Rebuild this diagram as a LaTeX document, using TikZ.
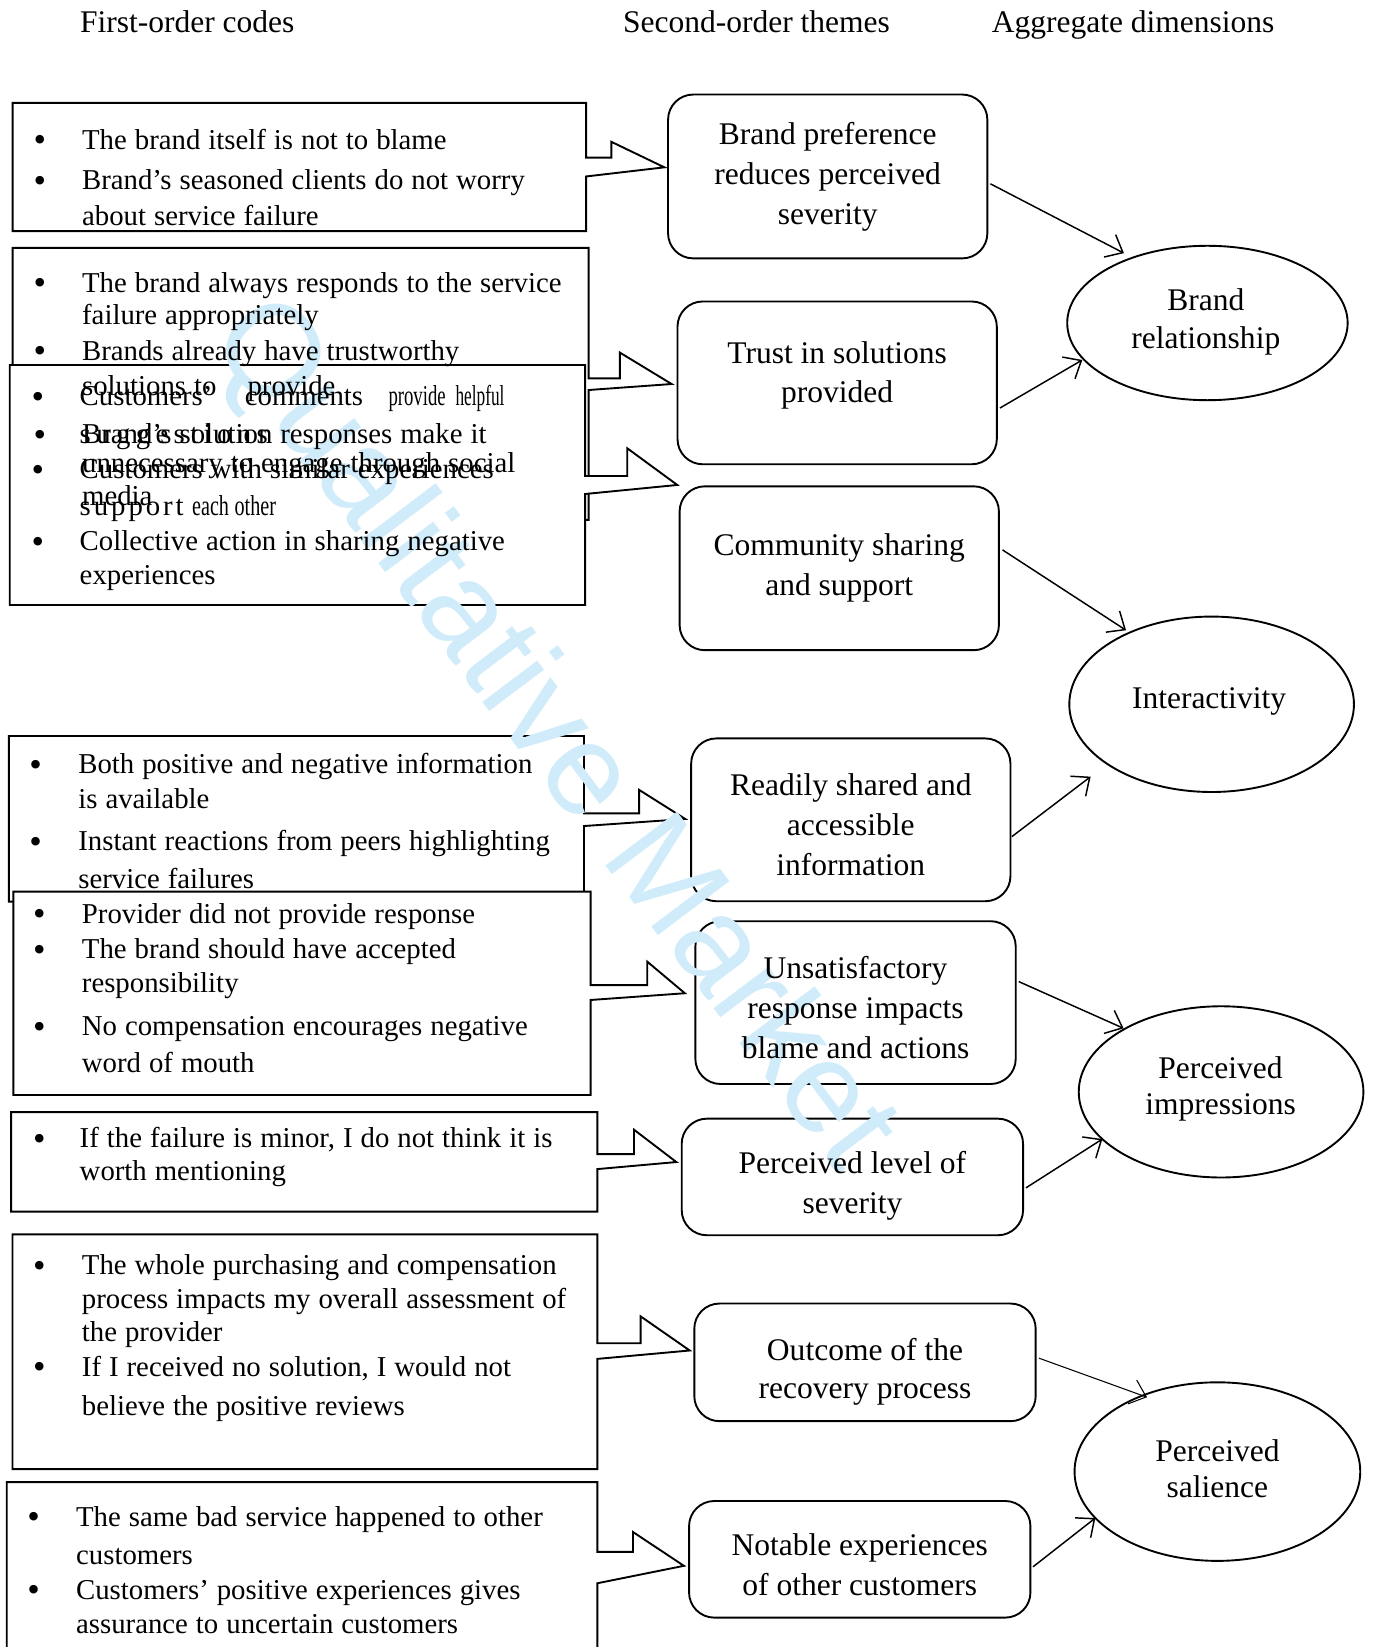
\documentclass[tikz,border=0pt]{standalone}
\usepackage{fontspec}
\setmainfont{Liberation Serif}
\newfontfamily\wmfont{Liberation Sans}
\newfontfamily\codefamily[WordSpace=1.11]{Liberation Serif}
\usepackage{graphicx}
\usetikzlibrary{shapes.geometric,arrows.meta,calc}
\definecolor{wmblue}{RGB}{208,236,250}
\newcommand\codefont[1]{\codefamily\fontsize{27.4}{#1}\selectfont}
\tikzset{
 callout/.style={draw=black, line width=1.8pt, fill=white, line join=miter},
 theme/.style={draw=black, line width=1.8pt, rounded corners=24pt, inner sep=0pt},
 dim/.style={draw=black, line width=1.8pt, ellipse, inner sep=0pt},
 thtext/.style={anchor=base, align=flush center, text width=340pt, inner sep=0pt},
 hdr/.style={anchor=base west, inner sep=0pt, font=\fontsize{30}{36}\selectfont},
 bul/.style={anchor=base, inner sep=0pt, yshift=-2.5pt, font=\fontsize{34}{34}\selectfont},
 code/.style={anchor=base west, align=flush left, text width=560pt, inner sep=0pt},
 arr/.style={line width=1.4pt, -{Straight Barb[length=14pt,width=24pt]}},
 wm/.style={text=wmblue, font=\wmfont\fontsize{124}{124}\selectfont, inner sep=0pt}
}
\newcommand\citem[6]{%
 \node[bul] (#1b) at (#2,#4) {\textbullet};
 \node[code, font={\codefont{#5}}] (#1) at (#3,#4) {#6};
}
\begin{document}
\begin{tikzpicture}[x=1pt,y=-1pt]
\useasboundingbox (0,0) rectangle (1310,1568);
\clip (0,0) rectangle (1310,1568);

% ---------- callout shapes ----------
\draw[callout] (12,98) -- (558,98) -- (558,150) -- (582,150) -- (582,135) -- (632.5,159.3) -- (558,168) -- (558,220) -- (12,220) -- cycle;
\draw[callout] (12,236) -- (560.4,236) -- (560.4,360.2) -- (590.2,360.2) -- (590.2,335.7) -- (639.4,365.6) -- (560.4,371.3) -- (560.4,495) -- (12,495) -- cycle;
\draw[callout] (9.3,347.5) -- (557,347.5) -- (557,453.2) -- (597.2,453.2) -- (597.2,426.8) -- (644.8,461.7) -- (557,470.3) -- (557,576) -- (9.3,576) -- cycle;
\draw[callout] (8.5,700.7) -- (556,700.7) -- (556,774.3) -- (608.5,774.3) -- (608.5,752) -- (652.4,779.7) -- (556,786.4) -- (556,858.4) -- (8.5,858.4) -- cycle;
\draw[callout] (12.7,848.9) -- (562.3,848.9) -- (562.3,937.8) -- (616.2,937.8) -- (616.2,915.5) -- (652,945.6) -- (562.3,952) -- (562.3,1042.5) -- (12.7,1042.5) -- cycle;
\draw[callout] (10.6,1058.8) -- (568.7,1058.8) -- (568.7,1098.7) -- (603.6,1098.7) -- (603.6,1075.5) -- (643.9,1106.3) -- (568.7,1113) -- (568.7,1153.5) -- (10.6,1153.5) -- cycle;
\draw[callout] (11.9,1175.1) -- (568.7,1175.1) -- (568.7,1278.8) -- (609.9,1278.8) -- (609.9,1253.2) -- (656.6,1285.7) -- (568.7,1293.7) -- (568.7,1398.7) -- (11.9,1398.7) -- cycle;
\draw[callout] (6.4,1411) -- (568.7,1411) -- (568.7,1477.4) -- (602.6,1477.4) -- (602.6,1458.5) -- (651.1,1490.7) -- (568.7,1507.3) -- (568.7,1600) -- (6.4,1600) -- cycle;

% ---------- second-order themes ----------
\node[theme, minimum width=304pt, minimum height=156pt] (T1) at (788,168) {};
\node[theme, minimum width=304pt, minimum height=155pt] (T2) at (797,364.5) {};
\node[theme, minimum width=304pt, minimum height=156pt] (T3) at (799,541) {};
\node[theme, minimum width=304pt, minimum height=155pt] (T4) at (810,780.5) {};
\node[theme, minimum width=305pt, minimum height=155pt] (T5) at (814.5,954.5) {};
\node[theme, minimum width=325pt, minimum height=111pt] (T6) at (811.5,1120.5) {};
\node[theme, minimum width=325pt, minimum height=112pt] (T7) at (823.5,1297) {};
\node[theme, minimum width=325pt, minimum height=111pt] (T8) at (818.5,1484.5) {};

% ---------- aggregate dimensions ----------
\node[dim, minimum width=267pt, minimum height=147pt] (E1) at (1149.5,307.5) {};
\node[dim, minimum width=271pt, minimum height=167pt] (E2) at (1153.5,670.5) {};
\node[dim, minimum width=271pt, minimum height=163pt] (E3) at (1162.5,1039.5) {};
\node[dim, minimum width=272pt, minimum height=170pt] (E4) at (1159,1401) {};

% ---------- watermark ----------
\node[wm, rotate=-53] (wmark) at (525,700) {Qualitative Market};

\begin{scope}[shift={(0,2)}]
% ---------- headers ----------
\node[hdr] (h1) at (76,29) {First-order codes};
\node[hdr] (h2) at (593,29) {Second-order themes};
\node[hdr] (h3) at (944,29) {Aggregate dimensions};

% ---------- theme texts ----------
\node[thtext, font=\fontsize{30}{38}\selectfont] (t1x) at (788,135.5) {Brand preference\\reduces perceived\\severity};
\node[thtext, font=\fontsize{30}{36.5}\selectfont] (t2x) at (797,344.3) {Trust in solutions\\provided};
\node[thtext, font=\fontsize{30}{38}\selectfont] (t3x) at (799,526.8) {Community sharing\\and support};
\node[thtext, font=\fontsize{30}{38}\selectfont] (t4x) at (810,755.3) {Readily shared and\\accessible\\information};
\node[thtext, font=\fontsize{30}{37.8}\selectfont] (t5x) at (814.5,929.8) {Unsatisfactory\\response impacts\\blame and actions};
\node[thtext, font=\fontsize{30}{38.5}\selectfont] (t6x) at (811.5,1115) {Perceived level of\\severity};
\node[thtext, font=\fontsize{30}{36.6}\selectfont] (t7x) at (823.5,1293) {Outcome of the\\recovery process};
\node[thtext, font=\fontsize{30}{38}\selectfont] (t8x) at (818.5,1479) {Notable experiences\\of other customers};

% ---------- dimension texts ----------
\node[thtext, font=\fontsize{30}{36.5}\selectfont] (e1x) at (1148,293.5) {Brand\\relationship};
\node[thtext, font=\fontsize{30}{36}\selectfont] (e2x) at (1151,672.8) {Interactivity};
\node[thtext, font=\fontsize{30}{35}\selectfont] (e3x) at (1162,1024.4) {Perceived\\impressions};
\node[thtext, font=\fontsize{30}{35}\selectfont] (e4x) at (1159,1389) {Perceived\\salience};

% ---------- first-order codes ----------
\citem{c1a}{38}{78}{140}{34}{The brand itself is not to blame}
\citem{c1b}{38}{78}{178.5}{34}{Brand’s seasoned clients do not worry\\about service failure}

\citem{c2a}{38}{78}{276}{31}{The brand always responds to the service\\failure appropriately}
\citem{c2b}{38}{78}{341}{34}{Brands already have trustworthy\\solutions to\hspace*{22pt} provide}
\citem{c2c}{38}{78}{420.5}{27}{Brand’s solution responses make it\\unnecessary to engage through social\\[4.5pt]media}

\citem{c3a}{36}{75.7}{384}{36.5}{\makebox[157.2pt][l]{Customers’}\makebox[136.8pt][l]{comments}\makebox[63.8pt][l]{\scalebox{0.65}[1]{provide}}\scalebox{0.6}[1]{helpful}\\\makebox[179pt][s]{s\hfill u\hfill g\hfill g\hfill e\hfill s\hfill t\hfill i\hfill o\hfill n\hfill s}}
\citem{c3b}{36}{75.7}{453.8}{35}{Customers with similar experiences\\\makebox[107pt][l]{\makebox[99pt][s]{s\hfill u\hfill p\hfill p\hfill o\hfill r\hfill t}}\scalebox{0.7}[1]{each other}}
\citem{c3c}{36}{75.7}{522}{32}{Collective action in sharing negative\\experiences}

\citem{c4a}{34}{74.4}{734.6}{32.7}{Both positive and negative information\\is available}
\citem{c4b}{34}{74.4}{807.6}{36.5}{Instant reactions from peers highlighting\\service failures}

\citem{c5a}{37.4}{77.8}{876.8}{32}{Provider did not provide response}
\citem{c5b}{37.4}{77.8}{910.8}{31.7}{The brand should have accepted\\responsibility}
\citem{c5c}{37.4}{77.8}{983.7}{35}{No compensation encourages negative\\word of mouth}

\citem{c6a}{37.4}{75.7}{1090.4}{31.6}{If the failure is minor, I do not think it is\\worth mentioning}

\citem{c7a}{37.4}{77.8}{1211.6}{32}{The whole purchasing and compensation\\process impacts my overall assessment of\\the provider}
\citem{c7b}{37.4}{77.8}{1308}{38}{If I received no solution, I would not\\believe the positive reviews}

\citem{c8a}{31.9}{72.3}{1450.8}{36.5}{The same bad service happened to other\\customers}
\citem{c8b}{31.9}{72.3}{1520.6}{33}{Customers’ positive experiences gives\\assurance to uncertain customers}
\end{scope}

% ---------- connectors ----------
\draw[arr] ($(T1.east)+(2,7)$) -- ($(E1)+(-79.5,-66.5)$);
\draw[arr] ($(T2.east)+(2,24)$) -- ($(E1)+(-119.1,35.2)$);
\draw[arr] ($(T3.east)+(2.5,-17.5)$) -- ($(E2)+(-81.5,-70.5)$);
\draw[arr] ($(T4.east)+(0.4,16)$) -- ($(E2)+(-115.2,68.9)$);
\draw[arr] ($(T5.east)+(2,-20)$) -- ($(E3)+(-92.8,-60.5)$);
\draw[arr] ($(T6.east)+(1.8,10.4)$) -- ($(E3)+(-113,44.9)$);
\draw[arr, line width=1pt] ($(T7.east)+(2.2,-4)$) -- ($(E4)+(-67,-70.8)$);
\draw[arr] ($(T8.east)+(1.5,7.2)$) -- ($(E4)+(-116.2,44.2)$);
\end{tikzpicture}
\end{document}
